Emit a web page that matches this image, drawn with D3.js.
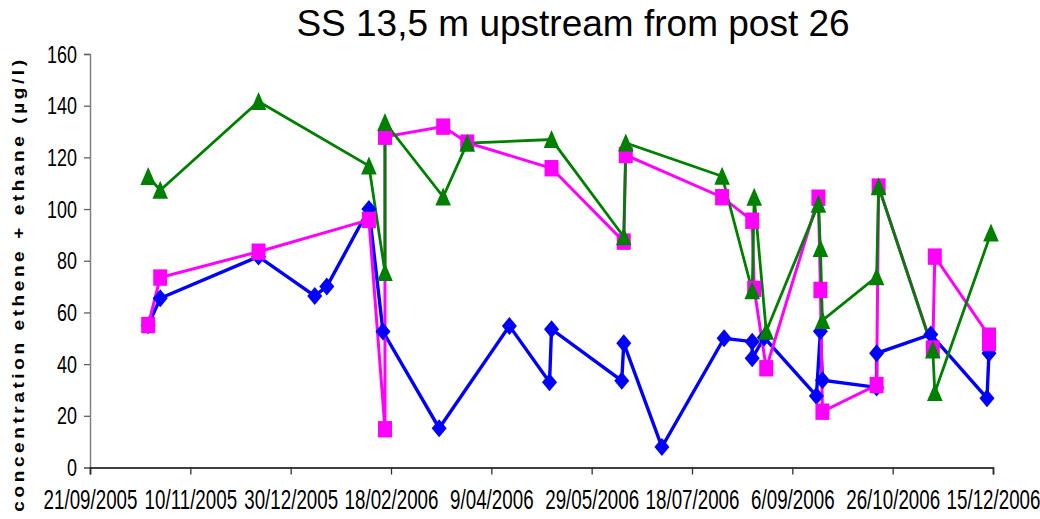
<!DOCTYPE html>
<html>
<head>
<meta charset="utf-8">
<script src="https://cdn.jsdelivr.net/npm/d3@7"></script>
<style>
  html, body { margin: 0; padding: 0; background: #fff; }
  svg { display: block; }
</style>
</head>
<body>
<svg id="chart" width="1040" height="519"></svg>
<script>
// Sampling dates (ISO) and concentrations per series
const blueDates = ["2005-10-20","2005-10-26","2005-12-14","2006-01-11","2006-01-17","2006-02-07","2006-02-14","2006-03-14","2006-04-18","2006-05-08","2006-05-09","2006-06-13","2006-06-14","2006-07-03","2006-08-03","2006-08-17","2006-08-17","2006-08-23","2006-09-18","2006-09-20","2006-09-21","2006-10-18","2006-10-18","2006-11-14","2006-12-12","2006-12-13"];
const blueValues = [55, 65.5, 81.6, 66.4, 70, 100, 52.6, 15.2, 54.8, 33, 53.5, 33.6, 48.1, 7.9, 50, 48.7, 42.3, 50.3, 27.7, 52.7, 33.8, 31, 44.2, 51.5, 26.8, 44.2];

const pinkDates = ["2005-10-20","2005-10-26","2005-12-14","2006-02-07","2006-02-15","2006-02-15","2006-03-16","2006-03-28","2006-05-09","2006-06-14","2006-06-15","2006-08-02","2006-08-17","2006-08-18","2006-08-24","2006-09-19","2006-09-20","2006-09-21","2006-10-18","2006-10-19","2006-11-15","2006-11-16","2006-12-13","2006-12-13"];
const pinkValues = [55.1, 73.5, 83.5, 95.8, 14.8, 128, 131.9, 125.7, 115.8, 87.4, 120.9, 104.6, 95.5, 69.1, 38.4, 104.4, 68.7, 21.6, 31.9, 108.7, 46, 81.6, 51, 48.2];

const greenDates = ["2005-10-20","2005-10-26","2005-12-14","2006-02-07","2006-02-15","2006-02-15","2006-03-16","2006-03-28","2006-05-09","2006-06-14","2006-06-15","2006-08-02","2006-08-17","2006-08-18","2006-08-24","2006-09-19","2006-09-20","2006-09-21","2006-10-18","2006-10-19","2006-11-15","2006-11-16","2006-12-14"];
const greenValues = [112.6, 107.3, 141.6, 116.7, 75.5, 133.5, 104.7, 125.5, 126.9, 89.3, 125.6, 112.7, 68.4, 104.6, 52.7, 101.9, 84.7, 56.9, 73.8, 108.6, 45.5, 29, 90.7];

const xTickLabels = ["21/09/2005","10/11/2005","30/12/2005","18/02/2006","9/04/2006","29/05/2006","18/07/2006","6/09/2006","26/10/2006","15/12/2006"];
const yTickValues = [0, 20, 40, 60, 80, 100, 120, 140, 160];

const titleText = "SS 13,5 m upstream from post 26";
const yAxisTitle = "concentration ethene + ethane (µg/l)";

// ---- layout ----
const svg = d3.select("#chart");
const plot = { left: 90, right: 993, top: 54, bottom: 467.5 };
const parseIso = d3.timeParse("%Y-%m-%d");
const parseTick = d3.timeParse("%d/%m/%Y");
const fmtTick = d3.timeFormat("%-d/%m/%Y");
const tickDates = xTickLabels.map(parseTick);

const x = d3.scaleTime()
  .domain([tickDates[0], tickDates[tickDates.length - 1]])
  .range([plot.left, plot.right]);
const y = d3.scaleLinear().domain([0, 160]).range([plot.bottom, plot.top]);

const FONT = "'Liberation Sans', Arial, sans-serif";

// ---- title ----
svg.append("text")
  .attr("transform", "translate(573,36) scale(1,1)")
  .attr("text-anchor", "middle")
  .style("font-family", FONT)
  .style("font-size", "37px")
  .attr("fill", "#000")
  .text(titleText);

// ---- axes ----
const yAxis = d3.axisLeft(y).tickValues(yTickValues).tickSize(6).tickPadding(6).tickFormat(d3.format("d"));
const gy = svg.append("g").attr("transform", `translate(${plot.left},0)`).call(yAxis);
gy.select(".domain").attr("stroke", "#808080").attr("stroke-width", 1.5);
gy.selectAll(".tick line").attr("stroke", "#606060").attr("stroke-width", 1.3);
gy.selectAll(".tick text")
  .attr("x", null)
  .attr("dy", null)
  .attr("text-anchor", "end")
  .attr("transform", "translate(-13,8) scale(0.78,1)")
  .style("font-family", FONT)
  .style("font-size", "23px")
  .attr("fill", "#000");

const xAxis = d3.axisBottom(x).tickValues(tickDates).tickSize(7).tickFormat(fmtTick);
const gx = svg.append("g").attr("transform", `translate(0,${plot.bottom})`).call(xAxis);
gx.select(".domain").attr("stroke", "#000").attr("stroke-width", 1.6);
gx.selectAll(".tick line").attr("stroke", "#303030").attr("stroke-width", 1.3);
gx.selectAll(".tick text")
  .attr("y", null)
  .attr("dy", null)
  .attr("transform", "translate(0,41) scale(0.67,1)")
  .style("font-family", FONT)
  .style("font-size", "28px")
  .attr("fill", "#000");

// ---- y-axis title (rotated, spaced bold) ----
svg.append("text")
  .attr("transform", "translate(24,284) scale(0.88,1) rotate(-90)")
  .attr("text-anchor", "middle")
  .style("font-family", FONT)
  .style("font-size", "19px")
  .style("font-weight", "bold")
  .style("letter-spacing", "3.6px")
  .attr("fill", "#000")
  .text(yAxisTitle);

// ---- series ----
const series = [
  { dates: blueDates, values: blueValues, color: "#0000FF", width: 3.4, shape: "diamond" },
  { dates: pinkDates, values: pinkValues, color: "#FF00FF", width: 3, shape: "square" },
  { dates: greenDates, values: greenValues, color: "#008000", width: 2.8, shape: "triangle" }
].map(s => ({ ...s, points: s.dates.map((d, i) => ({ date: parseIso(d), value: s.values[i] })) }));

const line = d3.line().x(d => x(d.date)).y(d => y(d.value));

// lines for all series first, markers on top
series.forEach(s => {
  svg.append("path")
    .datum(s.points)
    .attr("d", line)
    .attr("fill", "none")
    .attr("stroke", s.color)
    .attr("stroke-width", s.width)
    .attr("stroke-linejoin", "miter");
});

const shapes = {
  diamond: "M0,-9L7.5,0L0,9L-7.5,0Z",
  square: "M-7,-8.2L7,-8.2L7,8.2L-7,8.2Z",
  triangle: "M0,-9.5L7.8,8.5L-7.8,8.5Z"
};

series.forEach(s => {
  svg.append("g").selectAll("path")
    .data(s.points)
    .join("path")
    .attr("transform", d => `translate(${x(d.date)},${y(d.value)})`)
    .attr("d", shapes[s.shape])
    .attr("fill", s.color);
});
</script>
</body>
</html>
